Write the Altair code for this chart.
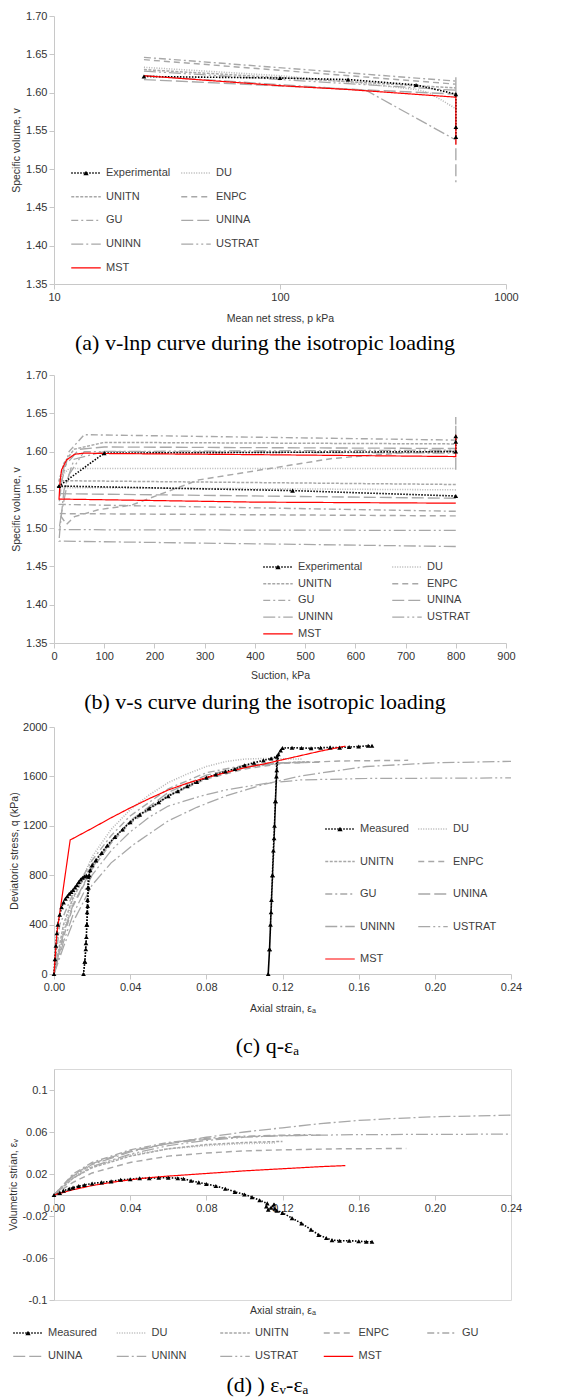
import altair as alt
import pandas as pd

# ---------------- legend / style tables ----------------
A_NAMES = ["Experimental", "DU", "UNITN", "ENPC", "GU", "UNINA", "UNINN", "USTRAT", "MST"]
C_NAMES = ["Measured", "DU", "UNITN", "ENPC", "GU", "UNINA", "UNINN", "USTRAT", "MST"]
COLORS = ["#000000", "#b5b5b5", "#a8a8a8", "#a8a8a8", "#a8a8a8", "#a8a8a8", "#a8a8a8", "#a8a8a8", "#ff0000"]
DASHES = [[1.5, 1.5], [1, 1.5], [3, 1.5], [6, 4], [7, 3, 2, 3], [12, 4], [12, 3, 2, 3], [12, 3, 2, 3, 2, 3], [1, 0]]
WIDTHS = [1.6, 1.2, 1.2, 1.3, 1.3, 1.6, 1.6, 1.6, 2.2]

# ---------------- panel (a): v - ln p ----------------
a_exp_p = [25, 100, 200, 400, 600, 600, 600]
a_exp_v = [1.621, 1.619, 1.617, 1.610, 1.598, 1.555, 1.542]
a_du_p = [25, 100, 200, 400, 455, 600]
a_du_v = [1.633, 1.622, 1.614, 1.604, 1.600, 1.579]
a_unitn_p = [25, 600]
a_unitn_v = [1.630, 1.606]
a_enpc_p = [25, 600]
a_enpc_v = [1.643, 1.611]
a_gu_p = [25, 600]
a_gu_v = [1.646, 1.615]
a_unina_p = [25, 600, 600, 600]
a_unina_v = [1.617, 1.598, 1.620, 1.483]
a_uninn_p = [25, 240, 600]
a_uninn_v = [1.622, 1.603, 1.538]
a_ustrat_p = [25, 600]
a_ustrat_v = [1.628, 1.603]
a_mst_p = [25, 100, 200, 600, 600]
a_mst_v = [1.622, 1.609, 1.604, 1.594, 1.532]

# ---------------- panel (b): v - s ----------------
b_exp_s = [800, 475, 10, 100, 800, 800, 800]
b_exp_v = [1.542, 1.549, 1.555, 1.598, 1.600, 1.613, 1.620]
b_du_s = [800, 10, 15, 30, 800]
b_du_v = [1.550, 1.553, 1.568, 1.578, 1.578]
b_unitn_s = [800, 10, 20, 40, 100, 800]
b_unitn_v = [1.557, 1.562, 1.585, 1.603, 1.612, 1.610]
b_enpc_s = [800, 10, 25, 41, 88, 154, 288, 421, 554, 687, 800]
b_enpc_v = [1.516, 1.519, 1.505, 1.515, 1.524, 1.530, 1.563, 1.577, 1.591, 1.598, 1.601]
b_gu_s = [800, 10, 15, 30, 60, 800]
b_gu_v = [1.522, 1.531, 1.560, 1.600, 1.622, 1.615]
b_unina_s = [800, 10, 20, 50, 100, 800, 800, 800]
b_unina_v = [1.539, 1.545, 1.580, 1.603, 1.606, 1.604, 1.645, 1.572]
b_uninn_s = [800, 10, 12, 20, 40, 100, 800]
b_uninn_v = [1.476, 1.483, 1.500, 1.550, 1.590, 1.600, 1.598]
b_ustrat_s = [800, 10, 15, 30, 60, 800]
b_ustrat_v = [1.497, 1.498, 1.520, 1.570, 1.600, 1.602]
b_mst_s = [800, 400, 10, 12, 15, 25, 41, 61, 100, 400, 800, 800]
b_mst_v = [1.5326, 1.534, 1.538, 1.560, 1.576, 1.589, 1.5965, 1.598, 1.5975, 1.596, 1.5935, 1.622]

# ---------------- panel (c): q - axial strain ----------------
c_meas_e = [0.000, 0.0005, 0.001, 0.0015, 0.002, 0.003, 0.004, 0.005, 0.006, 0.007, 0.008, 0.009, 0.010,
            0.011, 0.012, 0.013, 0.014, 0.015, 0.016, 0.017, 0.018,
            0.0178, 0.0176, 0.0174, 0.0172, 0.0170, 0.0167, 0.0162, 0.0155,
            0.0162, 0.0168, 0.0173, 0.0177, 0.0181, 0.0185, 0.019, 0.020, 0.022, 0.025, 0.028, 0.032, 0.036,
            0.040, 0.045, 0.050, 0.055, 0.060, 0.065, 0.070, 0.075, 0.080, 0.085, 0.090, 0.095, 0.100,
            0.105, 0.110, 0.114, 0.117,
            0.1168, 0.1163, 0.1158, 0.1152, 0.1147, 0.1142, 0.1137, 0.1132, 0.1125,
            0.1132, 0.1140, 0.1148, 0.1156, 0.1163, 0.1170, 0.1178, 0.119, 0.120, 0.125, 0.130, 0.135,
            0.140, 0.145, 0.150, 0.155, 0.160, 0.165, 0.167]
c_meas_q = [0, 120, 230, 330, 400, 480, 540, 580, 610, 630, 650, 665, 680,
            700, 720, 745, 765, 780, 790, 795, 790,
            700, 600, 500, 400, 300, 200, 100, 0,
            100, 250, 400, 550, 700, 800, 840, 880, 920, 980, 1040, 1110, 1170,
            1230, 1290, 1340, 1390, 1440, 1480, 1520, 1555, 1590, 1615, 1640, 1660, 1690,
            1710, 1730, 1745, 1760,
            1600, 1400, 1200, 1000, 800, 600, 400, 200, 0,
            200, 500, 800, 1100, 1400, 1650, 1780, 1810, 1830, 1832, 1830, 1828,
            1832, 1835, 1833, 1838, 1842, 1848, 1848]
c_du_e = [0, 0.005, 0.01, 0.02, 0.03, 0.04, 0.05, 0.06, 0.07, 0.08, 0.09, 0.10, 0.11, 0.13]
c_du_q = [0, 350, 600, 950, 1170, 1330, 1450, 1550, 1620, 1680, 1720, 1740, 1745, 1740]
c_unitn_e = [0, 0.005, 0.01, 0.02, 0.03, 0.04, 0.06, 0.08, 0.10, 0.12, 0.135]
c_unitn_q = [0, 400, 620, 890, 1080, 1230, 1450, 1590, 1670, 1710, 1720]
c_enpc_e = [0, 0.005, 0.01, 0.02, 0.03, 0.04, 0.06, 0.08, 0.10, 0.12, 0.15, 0.186]
c_enpc_q = [0, 300, 550, 850, 1060, 1220, 1440, 1580, 1660, 1705, 1725, 1730]
c_gu_e = [0, 0.003, 0.01, 0.02, 0.03, 0.04, 0.06, 0.08, 0.10, 0.12, 0.14]
c_gu_q = [0, 400, 650, 920, 1120, 1280, 1500, 1630, 1690, 1710, 1715]
c_unina_e = [0, 0.005, 0.01, 0.02, 0.03, 0.04, 0.06, 0.08, 0.10, 0.12, 0.13]
c_unina_q = [0, 330, 560, 860, 1070, 1240, 1470, 1610, 1680, 1710, 1715]
c_uninn_e = [0, 0.005, 0.01, 0.02, 0.03, 0.042, 0.06, 0.075, 0.09, 0.11, 0.13, 0.164, 0.2, 0.24]
c_uninn_q = [0, 220, 420, 720, 900, 1050, 1240, 1350, 1440, 1535, 1605, 1680, 1710, 1722]
c_ustrat_e = [0, 0.005, 0.01, 0.02, 0.03, 0.04, 0.05, 0.06, 0.077, 0.09, 0.112, 0.13, 0.164, 0.24]
c_ustrat_q = [0, 260, 480, 800, 1000, 1150, 1270, 1360, 1440, 1490, 1545, 1572, 1583, 1588]
c_mst_e = [0, 0.0015, 0.0085, 0.02, 0.03, 0.04, 0.05, 0.06, 0.07, 0.08, 0.09, 0.10, 0.11, 0.12, 0.13, 0.14, 0.153]
c_mst_q = [0, 330, 1085, 1180, 1265, 1345, 1420, 1490, 1545, 1590, 1630, 1670, 1700, 1735, 1770, 1805, 1845]

# ---------------- panel (d): volumetric - axial strain ----------------
d_meas_e = [0, 0.003, 0.005, 0.008, 0.01, 0.013, 0.016, 0.02, 0.025, 0.03, 0.035, 0.04, 0.045, 0.05, 0.055,
            0.06, 0.065, 0.068, 0.072, 0.076, 0.08, 0.085, 0.09, 0.095, 0.1, 0.104, 0.108, 0.112,
            0.1115, 0.1125, 0.114, 0.1155, 0.116, 0.117, 0.12, 0.125, 0.13, 0.135, 0.139, 0.143, 0.146,
            0.15, 0.155, 0.16, 0.164, 0.167]
d_meas_v = [0, 0.002, 0.004, 0.006, 0.007, 0.0085, 0.0095, 0.011, 0.012, 0.013, 0.0145, 0.015, 0.016, 0.016, 0.0165,
            0.0165, 0.016, 0.0155, 0.0135, 0.012, 0.0105, 0.0085, 0.006, 0.003, 0.0005, -0.002, -0.005, -0.008,
            -0.011, -0.014, -0.012, -0.009, -0.013, -0.015, -0.017, -0.022, -0.027, -0.033, -0.038, -0.041, -0.043,
            -0.0435, -0.0435, -0.044, -0.0445, -0.0445]
d_du_e = [0, 0.01, 0.02, 0.04, 0.06, 0.08, 0.10, 0.116]
d_du_v = [0, 0.018, 0.027, 0.038, 0.044, 0.047, 0.049, 0.0495]
d_unitn_e = [0, 0.01, 0.02, 0.04, 0.06, 0.08, 0.10, 0.12]
d_unitn_v = [0, 0.016, 0.026, 0.037, 0.044, 0.048, 0.050, 0.051]
d_enpc_e = [0, 0.01, 0.02, 0.04, 0.06, 0.08, 0.10, 0.12, 0.15, 0.185]
d_enpc_v = [0, 0.012, 0.021, 0.031, 0.037, 0.040, 0.042, 0.043, 0.044, 0.0443]
d_gu_e = [0, 0.01, 0.02, 0.04, 0.06, 0.08, 0.10, 0.12, 0.135]
d_gu_v = [0, 0.020, 0.031, 0.043, 0.050, 0.054, 0.056, 0.057, 0.0575]
d_unina_e = [0, 0.01, 0.02, 0.04, 0.06, 0.08, 0.10, 0.12, 0.14]
d_unina_v = [0, 0.019, 0.030, 0.042, 0.049, 0.053, 0.0555, 0.0565, 0.057]
d_uninn_e = [0, 0.01, 0.02, 0.04, 0.06, 0.08, 0.10, 0.12, 0.14, 0.16, 0.18, 0.20, 0.24]
d_uninn_v = [0, 0.018, 0.029, 0.041, 0.049, 0.055, 0.060, 0.064, 0.068, 0.071, 0.073, 0.0745, 0.076]
d_ustrat_e = [0, 0.01, 0.02, 0.04, 0.06, 0.08, 0.10, 0.12, 0.16, 0.24]
d_ustrat_v = [0, 0.016, 0.027, 0.039, 0.047, 0.052, 0.055, 0.0565, 0.0575, 0.058]
d_mst_e = [0, 0.01, 0.02, 0.03, 0.04, 0.05, 0.06, 0.08, 0.10, 0.12, 0.14, 0.153]
d_mst_v = [0, 0.005, 0.009, 0.012, 0.0145, 0.0165, 0.018, 0.0205, 0.023, 0.025, 0.027, 0.028]

FONT = "Liberation Sans"
SERIF = "Liberation Serif"


def frame(names, pairs):
    rows = []
    for name, (xs, ys) in zip(names, pairs):
        for i, (x, y) in enumerate(zip(xs, ys)):
            rows.append({"series": name, "x": x, "y": y, "i": i})
    return pd.DataFrame(rows)


def panel(names, pairs, xenc, yenc, leg, caption, width, height, cap, marker_pairs):
    df = frame(names, pairs)
    main_leg = alt.Legend(title=None, orient="none", legendX=leg["x"], legendY=leg["y"],
                          direction="horizontal",
                          columns=leg["cols"], columnPadding=leg["cp"], rowPadding=leg["rp"],
                          gridAlign=leg.get("ga", "each"), symbolType="stroke", symbolSize=870,
                          clipHeight=12, labelOffset=4, labelFontSize=11, labelFont=FONT,
                          labelColor="#404040", padding=0)
    enc = dict(
        color=alt.Color("series:N", scale=alt.Scale(domain=names, range=COLORS), legend=main_leg),
        strokeDash=alt.StrokeDash("series:N", scale=alt.Scale(domain=names, range=DASHES), legend=main_leg),
        strokeWidth=alt.StrokeWidth("series:N", scale=alt.Scale(domain=names, range=WIDTHS), legend=main_leg),
        order=alt.Order("i:Q"),
    )
    base = alt.Chart(df).encode(x=xenc, y=yenc)
    gray = base.transform_filter(alt.FieldOneOfPredicate(field="series", oneOf=names[1:-1])).mark_line().encode(**enc)
    first = base.transform_filter(alt.FieldEqualPredicate(field="series", equal=names[0])).mark_line().encode(**enc)
    red = base.transform_filter(alt.FieldEqualPredicate(field="series", equal=names[-1])).mark_line().encode(**enc)
    mdf = pd.DataFrame({"x": marker_pairs[0], "y": marker_pairs[1], "marker": names[0]})
    tri_leg = alt.Legend(title=None, orient="none", legendX=leg["x"] + 10.5, legendY=leg["y"],
                         symbolType="triangle-up", symbolSize=28, symbolFillColor="black",
                         symbolStrokeColor="black", symbolStrokeWidth=0, clipHeight=12,
                         labelExpr="''", labelFontSize=11, padding=0)
    pts = alt.Chart(mdf).mark_point(filled=True, size=22, opacity=1).encode(
        x=xenc, y=yenc, color=alt.value("black"),
        shape=alt.Shape("marker:N", scale=alt.Scale(domain=[names[0]], range=["triangle-up"]), legend=tri_leg),
    )
    tp = dict(text=caption, orient="bottom", offset=cap["off"], font=SERIF, dx=-15,
              fontSize=22, fontWeight="normal", color="black", anchor="middle")
    if cap.get("sp"):
        tp.update(subtitle=" ", subtitleFontSize=cap["sp"], subtitlePadding=1, subtitleFont=SERIF)
    return alt.layer(gray, first, red, pts).properties(
        width=width, height=height, title=alt.TitleParams(**tp),
    )


def yaxis(title, values, fmt=None, expr=None, tp=4):
    kw = dict(title=title, values=values, titlePadding=tp)
    if fmt:
        kw["format"] = fmt
    if expr:
        kw["labelExpr"] = expr
    return kw


# ---- (a)
pa = panel(
    A_NAMES,
    [(a_exp_p, a_exp_v), (a_du_p, a_du_v), (a_unitn_p, a_unitn_v), (a_enpc_p, a_enpc_v), (a_gu_p, a_gu_v),
     (a_unina_p, a_unina_v), (a_uninn_p, a_uninn_v), (a_ustrat_p, a_ustrat_v), (a_mst_p, a_mst_v)],
    alt.X("x:Q", scale=alt.Scale(type="log", domain=[10, 1000], nice=False),
          axis=alt.Axis(title="Mean net stress, p kPa", values=[10, 100, 1000], format="d", titlePadding=11)),
    alt.Y("y:Q", scale=alt.Scale(domain=[1.35, 1.70], nice=False, zero=False),
          axis=alt.Axis(**yaxis("Specific volume, v", [1.35, 1.40, 1.45, 1.50, 1.55, 1.60, 1.65, 1.70], ".2f"))),
    {"x": 16, "y": 151, "cols": 2, "cp": 9, "rp": 11.7},
    "(a) v-lnp curve during the isotropic loading", 452, 268, {"off": 9.5, "sp": 8},
    (a_exp_p, a_exp_v),
)

# ---- (b)
pb = panel(
    A_NAMES,
    [(b_exp_s, b_exp_v), (b_du_s, b_du_v), (b_unitn_s, b_unitn_v), (b_enpc_s, b_enpc_v), (b_gu_s, b_gu_v),
     (b_unina_s, b_unina_v), (b_uninn_s, b_uninn_v), (b_ustrat_s, b_ustrat_v), (b_mst_s, b_mst_v)],
    alt.X("x:Q", scale=alt.Scale(domain=[0, 900], nice=False),
          axis=alt.Axis(title="Suction, kPa", values=list(range(0, 901, 100)), format="d", titlePadding=9)),
    alt.Y("y:Q", scale=alt.Scale(domain=[1.35, 1.70], nice=False, zero=False),
          axis=alt.Axis(**yaxis("Specific volume, v", [1.35, 1.40, 1.45, 1.50, 1.55, 1.60, 1.65, 1.70], ".2f"))),
    {"x": 208, "y": 186, "cols": 2, "cp": 28, "rp": 4.7},
    "(b) v-s curve during the isotropic loading", 452, 268, {"off": 11, "sp": 1},
    (b_exp_s, b_exp_v),
)

# ---- (c)
pc = panel(
    C_NAMES,
    [(c_meas_e, c_meas_q), (c_du_e, c_du_q), (c_unitn_e, c_unitn_q), (c_enpc_e, c_enpc_q), (c_gu_e, c_gu_q),
     (c_unina_e, c_unina_q), (c_uninn_e, c_uninn_q), (c_ustrat_e, c_ustrat_q), (c_mst_e, c_mst_q)],
    alt.X("x:Q", scale=alt.Scale(domain=[0, 0.24], nice=False),
          axis=alt.Axis(title="Axial strain, εₐ", values=[0, 0.04, 0.08, 0.12, 0.16, 0.20, 0.24], format=".2f",
                        titlePadding=11)),
    alt.Y("y:Q", scale=alt.Scale(domain=[0, 2000], nice=False),
          axis=alt.Axis(**yaxis("Deviatoric stress, q (kPa)", [0, 400, 800, 1200, 1600, 2000], "d", tp=3))),
    {"x": 270, "y": 96, "cols": 2, "cp": 8, "rp": 20.5},
    "(c) q-εₐ", 457, 247, {"off": 22, "sp": 4},
    (c_meas_e, c_meas_q),
)

# ---- (d)
pd_ = panel(
    C_NAMES,
    [(d_meas_e, d_meas_v), (d_du_e, d_du_v), (d_unitn_e, d_unitn_v), (d_enpc_e, d_enpc_v), (d_gu_e, d_gu_v),
     (d_unina_e, d_unina_v), (d_uninn_e, d_uninn_v), (d_ustrat_e, d_ustrat_v), (d_mst_e, d_mst_v)],
    alt.X("x:Q", scale=alt.Scale(domain=[0, 0.24], nice=False),
          axis=alt.Axis(title="Axial strain, εₐ", values=[0, 0.04, 0.08, 0.12, 0.16, 0.20, 0.24], format=".2f",
                        offset=-105, titlePadding=92)),
    alt.Y("y:Q", scale=alt.Scale(domain=[-0.1, 0.12], nice=False, zero=False),
          axis=alt.Axis(**yaxis("Volumetric strian, εᵥ", [0.1, 0.06, 0.02, -0.02, -0.06, -0.1],
                                expr="replace(format(datum.value, '.2~f'), '−', '-')", tp=3))),
    {"x": -42, "y": 258, "cols": 5, "cp": 18.5, "rp": 11.3, "ga": "all"},
    "(d) ) εᵥ-εₐ", 457, 231, {"off": 12},
    (d_meas_e, d_meas_v),
).properties(view=alt.ViewBackground(stroke="#d9d9d9", strokeWidth=1))

chart = alt.vconcat(pa, pb, pc, pd_, spacing=5).resolve_scale(
    color="independent", strokeDash="independent", strokeWidth="independent", shape="independent",
    x="independent", y="independent",
).resolve_legend(
    color="independent", strokeDash="independent", strokeWidth="independent", shape="independent",
).properties(
    padding={"left": 8, "top": 10, "right": 5, "bottom": 2}, background="white",
).configure_view(
    strokeWidth=0,
).configure_axis(
    domainColor="#c8c8c8", tickColor="#c8c8c8", labelColor="#333333", titleColor="#333333",
    labelFont=FONT, titleFont=FONT, labelFontSize=11, titleFontSize=10.5, titleFontWeight="normal",
    grid=False, tickSize=5, labelPadding=2, labelFlush=False, labelOverlap=False,
)

chart.save("out.html", embed_options={"renderer": "svg", "actions": False})
